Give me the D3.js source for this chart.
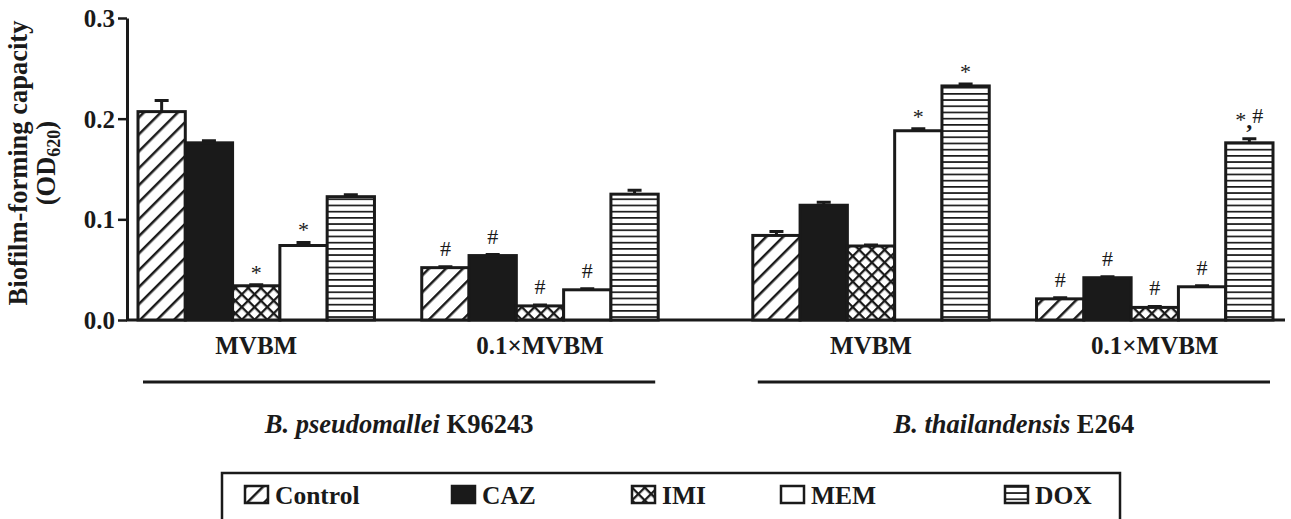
<!DOCTYPE html>
<html>
<head>
<meta charset="utf-8">
<script src="https://cdn.jsdelivr.net/npm/d3@7"></script>
<style>
  body { margin: 0; background: #fff; }
  svg text { font-family: "Liberation Serif", "Times New Roman", serif; fill: #1a1a1a; }
</style>
</head>
<body>
<div class="chart"></div>
<script>
//////////////////////////////////////////////////////////////
///////////////////////// Data ///////////////////////////////
//////////////////////////////////////////////////////////////

var treatments = ["Control", "CAZ", "IMI", "MEM", "DOX"];
var media = ["MVBM", "0.1×MVBM", "MVBM", "0.1×MVBM"];
var strains = ["B. pseudomallei", "B. thailandensis"];
var strainIds = ["K96243", "E264"];
var yTicks = [0, 0.1, 0.2, 0.3];

// mean OD620 per treatment (Control, CAZ, IMI, MEM, DOX)
var bpMVBM = [0.207, 0.176, 0.034, 0.074, 0.1225];
var bpTenth = [0.052, 0.064, 0.014, 0.030, 0.125];
var btMVBM = [0.084, 0.114, 0.0735, 0.188, 0.2325];
var btTenth = [0.021, 0.042, 0.0125, 0.033, 0.176];

// error bars
var bpMVBMErr = [0.011, 0.002, 0.001, 0.003, 0.002];
var bpTenthErr = [0.001, 0.001, 0.001, 0.001, 0.004];
var btMVBMErr = [0.004, 0.003, 0.001, 0.002, 0.002];
var btTenthErr = [0.001, 0.001, 0.001, 0.001, 0.004];

// significance marks
var bpMVBMSig = ["", "", "*", "*", ""];
var bpTenthSig = ["#", "#", "#", "#", ""];
var btMVBMSig = ["", "", "", "*", "*"];
var btTenthSig = ["#", "#", "#", "#", "*,#"];

var values = [bpMVBM, bpTenth, btMVBM, btTenth];
var errors = [bpMVBMErr, bpTenthErr, btMVBMErr, btTenthErr];
var marks = [bpMVBMSig, bpTenthSig, btMVBMSig, btTenthSig];

//////////////////////////////////////////////////////////////
///////////////////// General settings ///////////////////////
//////////////////////////////////////////////////////////////

var width = 1291, height = 519;
var fills = ["url(#hatch)", "#1a1a1a", "url(#cross)", "#fff", "url(#hlines)"];

// bar slots: 5 bars per group, 1 empty slot between media, 2 between strains
var groupStart = [0, 6, 13, 19];

var svg = d3.select(".chart").append("svg")
    .attr("width", width)
    .attr("height", height);

var defs = svg.append("defs");

var hatch = defs.append("pattern")
    .attr("id", "hatch")
    .attr("patternUnits", "userSpaceOnUse")
    .attr("width", 12).attr("height", 12)
    .attr("patternTransform", "rotate(45)");
hatch.append("rect").attr("width", 12).attr("height", 12).attr("fill", "#fff");
hatch.append("line").attr("x1", 0).attr("x2", 0).attr("y1", 0).attr("y2", 12)
    .attr("stroke", "#1a1a1a").attr("stroke-width", 5);

var cross = defs.append("pattern")
    .attr("id", "cross")
    .attr("patternUnits", "userSpaceOnUse")
    .attr("width", 9).attr("height", 9)
    .attr("patternTransform", "rotate(45)");
cross.append("rect").attr("width", 9).attr("height", 9).attr("fill", "#fff");
cross.append("line").attr("x1", 0).attr("x2", 0).attr("y1", 0).attr("y2", 9)
    .attr("stroke", "#1a1a1a").attr("stroke-width", 4.6);
cross.append("line").attr("x1", 0).attr("x2", 9).attr("y1", 0).attr("y2", 0)
    .attr("stroke", "#1a1a1a").attr("stroke-width", 4.6);

var hlines = defs.append("pattern")
    .attr("id", "hlines")
    .attr("patternUnits", "userSpaceOnUse")
    .attr("width", 10).attr("height", 6.2);
hlines.append("rect").attr("width", 10).attr("height", 6.2).attr("fill", "#fff");
hlines.append("line").attr("x1", 0).attr("x2", 10).attr("y1", 0).attr("y2", 0)
    .attr("stroke", "#1a1a1a").attr("stroke-width", 3.4);

//////////////////////////////////////////////////////////////
///////////////////// Scales & Axes //////////////////////////
//////////////////////////////////////////////////////////////

var x = d3.scaleBand().domain(d3.range(24)).range([138, 1273]).padding(0);
var y = d3.scaleLinear().domain([0, 0.3]).range([320, 18]);

var yAxis = d3.axisLeft(y)
    .tickValues(yTicks)
    .tickFormat(d3.format(".1f"))
    .tickSizeInner(9)
    .tickSizeOuter(0)
    .tickPadding(3);

var gy = svg.append("g")
    .attr("transform", "translate(127,0)")
    .call(yAxis);
gy.select(".domain").attr("stroke", "#1a1a1a").attr("stroke-width", 3);
gy.selectAll(".tick line").attr("stroke", "#1a1a1a").attr("stroke-width", 2.5);
gy.selectAll(".tick text")
    .attr("font-size", 25).attr("font-weight", "bold")
    .attr("font-family", "'Liberation Serif', serif")
    .attr("fill", "#1a1a1a")
    .attr("dy", "0.34em");

// x baseline
svg.append("line")
    .attr("x1", 126).attr("x2", 1285)
    .attr("y1", y(0)).attr("y2", y(0))
    .attr("stroke", "#1a1a1a").attr("stroke-width", 3);

// y title
var yTitle = svg.append("g").attr("transform", "translate(0,163) rotate(-90)");
yTitle.append("text")
    .attr("x", 0).attr("y", 27)
    .attr("text-anchor", "middle")
    .attr("font-size", 26.5).attr("font-weight", "bold")
    .text("Biofilm-forming capacity");
var od = yTitle.append("text")
    .attr("x", 0).attr("y", 55)
    .attr("text-anchor", "middle")
    .attr("font-size", 26.5).attr("font-weight", "bold");
od.append("tspan").text("(OD");
od.append("tspan").attr("font-size", 18).attr("dy", 5).text("620");
od.append("tspan").attr("dy", -5).text(")");

//////////////////////////////////////////////////////////////
//////////////////////// Bars ////////////////////////////////
//////////////////////////////////////////////////////////////

var bars = [];
values.forEach(function(vals, g) {
    vals.forEach(function(v, t) {
        bars.push({g: g, t: t, value: v, err: errors[g][t], mark: marks[g][t], slot: groupStart[g] + t});
    });
});

var barG = svg.append("g");

// error bars first so the bar outline sits over the stem
barG.selectAll(".err")
    .data(bars).enter()
    .append("path")
        .attr("class", "err")
        .attr("d", function(d) {
            var cx = x(d.slot) + x.bandwidth() / 2;
            var top = y(d.value + d.err);
            return "M" + cx + "," + y(d.value) + "V" + top + "M" + (cx - 7) + "," + top + "H" + (cx + 7);
        })
        .attr("fill", "none")
        .attr("stroke", "#1a1a1a")
        .attr("stroke-width", 3);

barG.selectAll(".bar")
    .data(bars).enter()
    .append("rect")
        .attr("class", "bar")
        .attr("x", function(d) { return x(d.slot); })
        .attr("width", x.bandwidth())
        .attr("y", function(d) { return y(d.value); })
        .attr("height", function(d) { return y(0) - y(d.value); })
        .attr("fill", function(d) { return fills[d.t]; })
        .attr("stroke", "#1a1a1a")
        .attr("stroke-width", 3);

// significance marks
barG.selectAll(".sig")
    .data(bars.filter(function(d) { return d.mark !== ""; })).enter()
    .append("text")
        .attr("class", "sig")
        .attr("x", function(d) { return x(d.slot) + x.bandwidth() / 2; })
        .attr("y", function(d) {
            var top = y(d.value + d.err);
            return d.mark === "#" ? top - 11 : top - 5;
        })
        .attr("text-anchor", "middle")
        .attr("font-size", 22)
        .attr("fill", "#333")
        .each(function(d) {
            var el = d3.select(this);
            if (d.mark === "*,#") {
                el.attr("y", y(d.value + d.err) - 11);
                el.append("tspan").attr("dy", -1).text("*");
                el.append("tspan").attr("font-weight", "bold").attr("font-size", 24).attr("dy", 1).text(",");
                el.append("tspan").attr("dy", -5).text("#");
            } else {
                el.text(d.mark);
            }
        });

//////////////////////////////////////////////////////////////
////////////////////// Category labels ///////////////////////
//////////////////////////////////////////////////////////////

svg.selectAll(".medium")
    .data(media).enter()
    .append("text")
        .attr("class", "medium")
        .attr("x", function(d, i) { return x(groupStart[i]) + 2.5 * x.bandwidth(); })
        .attr("y", 354)
        .attr("text-anchor", "middle")
        .attr("font-size", 25).attr("font-weight", "bold")
        .text(function(d) { return d; });

strains.forEach(function(s, i) {
    var x0 = x(groupStart[2 * i]) + 5;
    var x1 = x(groupStart[2 * i + 1]) + 5 * x.bandwidth() - 3;
    svg.append("line")
        .attr("x1", x0).attr("x2", x1)
        .attr("y1", 382).attr("y2", 382)
        .attr("stroke", "#1a1a1a").attr("stroke-width", 3);
    var t = svg.append("text")
        .attr("x", (x0 + x1) / 2).attr("y", 433)
        .attr("text-anchor", "middle")
        .attr("font-size", 26.5).attr("font-weight", "bold");
    t.append("tspan").attr("font-style", "italic").text(s);
    t.append("tspan").text(" " + strainIds[i]);
});

//////////////////////////////////////////////////////////////
///////////////////////// Legend /////////////////////////////
//////////////////////////////////////////////////////////////

svg.append("rect")
    .attr("x", 222).attr("y", 473)
    .attr("width", 898).attr("height", 70)
    .attr("fill", "none")
    .attr("stroke", "#1a1a1a").attr("stroke-width", 2.5);

var legendX = [245, 452, 632, 781, 1005];

var legendItem = svg.selectAll(".legendItem")
    .data(treatments).enter()
    .append("g")
        .attr("class", "legendItem")
        .attr("transform", function(d, i) { return "translate(" + legendX[i] + ",486)"; });

legendItem.append("rect")
    .attr("width", 23).attr("height", 17)
    .attr("fill", function(d, i) { return fills[i]; })
    .attr("stroke", "#1a1a1a").attr("stroke-width", 2.5);

legendItem.append("text")
    .attr("x", 30).attr("y", 17.5)
    .attr("font-size", 25.5).attr("font-weight", "bold")
    .text(function(d) { return d; });
</script>
</body>
</html>
